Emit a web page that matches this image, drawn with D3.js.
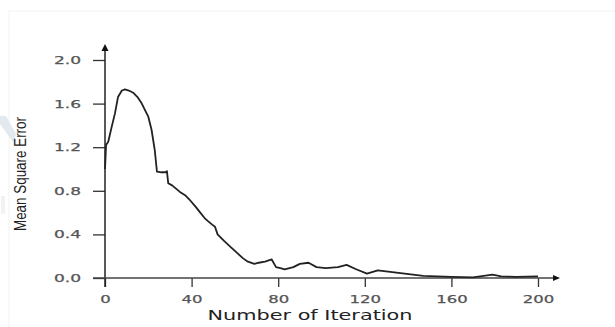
<!DOCTYPE html>
<html>
<head>
<meta charset="utf-8">
<script src="https://cdn.jsdelivr.net/npm/d3@7"></script>
<style>
  body { margin: 0; background: #fff; }
  svg { display: block; }
</style>
</head>
<body>
<svg id="chart" width="615" height="327"></svg>
<script>
// values
const iterations = [0, 0.5, 1.5, 3, 4.6, 6, 7.8, 9.2, 11, 13,
  15, 17, 19, 20, 21.5, 23, 24, 26, 28, 28.6,
  29.2, 31, 34.6, 37, 39, 42, 44, 46, 47.7, 49.5,
  50.8, 52, 55, 57.7, 61, 63.8, 66, 69, 71, 73.9,
  77, 79, 81, 83, 87, 90, 94, 97.7, 102, 107.6,
  111.6, 116, 121, 126, 134.6, 147, 160, 170, 179, 183,
  190, 200];
const mse = [1.0, 1.22, 1.25, 1.38, 1.51, 1.66, 1.72, 1.73, 1.72, 1.70,
  1.66, 1.60, 1.52, 1.48, 1.36, 1.17, 0.975, 0.97, 0.97, 0.98,
  0.87, 0.85, 0.79, 0.76, 0.72, 0.65, 0.60, 0.55, 0.52, 0.49,
  0.47, 0.40, 0.34, 0.29, 0.23, 0.18, 0.15, 0.13, 0.14, 0.15,
  0.17, 0.10, 0.09, 0.08, 0.10, 0.13, 0.14, 0.10, 0.09, 0.10,
  0.12, 0.08, 0.04, 0.07, 0.05, 0.02, 0.01, 0.005, 0.03, 0.015,
  0.01, 0.015];
const xTicks = [0, 40, 80, 120, 160, 200];
const yTicks = [0, 0.4, 0.8, 1.2, 1.6, 2.0];
const xTitle = "Number of Iteration";
const yTitle = "Mean Square Error";

const data = iterations.map((t, i) => ({ t, v: mse[i] }));

const svg = d3.select("#chart");

const x = d3.scaleLinear().domain([0, 200]).range([105, 538]),
  y = d3.scaleLinear().domain([0, 2]).range([278, 60]);

// faint frame of the source image
svg.append("rect")
  .attr("x", 9).attr("y", 11)
  .attr("width", 620).attr("height", 330)
  .attr("fill", "none")
  .attr("stroke", "#f3f3f3");

// faint watermark at the left edge
svg.append("path")
  .attr("d", "M0,116 L6,116 L16,134 L13,142 L0,124 Z")
  .attr("fill", "#e2e9ef");
svg.append("path")
  .attr("d", "M1,196 L5,196 L5,214 L1,214 Z")
  .attr("fill", "#f0f2f4");

const stretch = (sel, k) =>
  sel.each(function () {
    const w = this.getComputedTextLength();
    d3.select(this)
      .attr("textLength", w * k)
      .attr("lengthAdjust", "spacingAndGlyphs");
  });

// y axis
const gy = svg.append("g")
  .attr("transform", `translate(${x(0)},0)`)
  .call(d3.axisLeft(y).tickValues(yTicks).tickFormat(d3.format(".1f"))
    .tickSize(12).tickPadding(12));
gy.select(".domain").remove();
gy.selectAll(".tick line").attr("stroke", "#333").attr("stroke-width", 1.3);
gy.selectAll(".tick text")
  .attr("font-family", "DejaVu Sans")
  .attr("font-size", 11)
  .attr("fill", "#555")
  .attr("stroke", "#555")
  .attr("stroke-width", 0.25)
  .call(stretch, 1.55);

// x axis
const gx = svg.append("g")
  .attr("transform", `translate(0,${y(0)})`)
  .call(d3.axisBottom(x).tickValues(xTicks).tickSize(9).tickPadding(8));
gx.select(".domain").remove();
gx.selectAll(".tick line").attr("stroke", "#333").attr("stroke-width", 1.3);
gx.selectAll(".tick text")
  .attr("font-family", "DejaVu Sans")
  .attr("font-size", 11)
  .attr("fill", "#555")
  .attr("stroke", "#555")
  .attr("stroke-width", 0.25)
  .call(stretch, 1.5);

// axis lines with arrow heads
svg.append("line")
  .attr("x1", x(0)).attr("x2", x(0))
  .attr("y1", y(0) + 9).attr("y2", 50)
  .attr("stroke", "#222").attr("stroke-width", 1.5);
svg.append("path")
  .attr("d", `M${x(0) - 3.5},${51} L${x(0)},${44} L${x(0) + 3.5},${51} Z`)
  .attr("fill", "#111");
svg.append("line")
  .attr("x1", x(0) - 12).attr("x2", 554)
  .attr("y1", y(0)).attr("y2", y(0))
  .attr("stroke", "#444").attr("stroke-width", 1.5);
svg.append("path")
  .attr("d", `M${553},${y(0) - 3} L${560},${y(0)} L${553},${y(0) + 3} Z`)
  .attr("fill", "#111");

// curve
svg.append("path")
  .datum(data)
  .attr("fill", "none")
  .attr("stroke", "#222")
  .attr("stroke-width", 1.8)
  .attr("stroke-linejoin", "round")
  .attr("d", d3.line().x((d) => x(d.t)).y((d) => y(d.v)));

// titles
svg.append("text")
  .attr("x", 310).attr("y", 320)
  .attr("text-anchor", "middle")
  .attr("font-family", "DejaVu Sans")
  .attr("font-size", 14)
  .attr("fill", "#222")
  .text(xTitle)
  .attr("textLength", 205)
  .attr("lengthAdjust", "spacingAndGlyphs");

svg.append("text")
  .attr("transform", "translate(26,174) rotate(-90)")
  .attr("text-anchor", "middle")
  .attr("font-family", "Liberation Sans, Arial, sans-serif")
  .attr("font-size", 16)
  .attr("fill", "#222")
  .text(yTitle)
  .attr("textLength", 114)
  .attr("lengthAdjust", "spacingAndGlyphs");
</script>
</body>
</html>
